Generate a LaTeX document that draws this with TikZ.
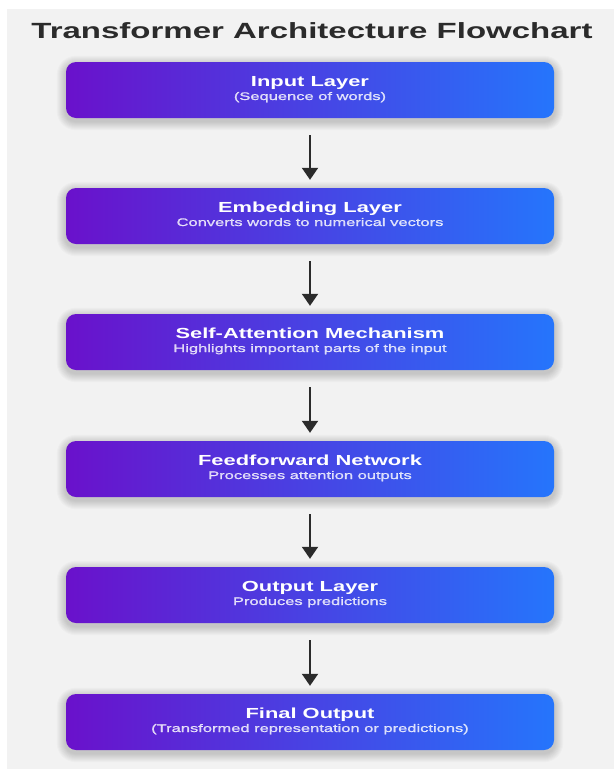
\documentclass[tikz,border=0pt]{standalone}
\usepackage{fontspec}
\setmainfont{Liberation Sans}[FakeStretch=1.5]
\newfontfamily\subfont{Liberation Sans}[FakeStretch=1.5,FakeBold=1.2]
\usetikzlibrary{arrows.meta}
\definecolor{bggray}{HTML}{F2F2F2}
\definecolor{gradL}{HTML}{6A11CB}
\definecolor{gradR}{HTML}{2575FC}
\definecolor{ink}{HTML}{2B2B2B}
\tikzset{
  layerbox/.style={rounded corners=10pt, minimum width=488pt, minimum height=56pt,
    left color=gradL, right color=gradR, draw=none, inner sep=0pt},
  boxtitle/.style={anchor=base, text=white, font=\fontsize{14.6}{17}\selectfont\bfseries, inner sep=0pt},
  boxsub/.style={anchor=base, text=white, text opacity=0.8, font=\subfont\fontsize{11}{13}\selectfont, inner sep=0pt},
  flowarrow/.style={draw=ink, line width=2pt, -{Triangle[width=16pt,length=12pt]}, shorten <=17pt, shorten >=8pt},
  softshadow/.style={fill=black, fill opacity=0.018, draw=none},
}
\newcommand{\boxshadow}[1]{%
  \foreach \r in {1,2,...,9} {
    \fill[softshadow, rounded corners=10pt+\r pt]
      ([xshift=-\r pt, yshift=-3pt+\r pt]#1.north west) rectangle ([xshift=\r pt, yshift=-3pt-\r pt]#1.south east);
  }%
}
\begin{document}
\begin{tikzpicture}[x=1pt,y=-1pt]
\useasboundingbox (0,0) rectangle (614,769);
\fill[white] (0,0) rectangle (614,769);
\fill[bggray] (7,9) rectangle (614,769);
\node[anchor=base, text=ink, font=\fontsize{22}{26}\selectfont\bfseries, inner sep=0pt] (title) at (312,38) {Transformer Architecture Flowchart};

\path (310,90) coordinate (c1) (310,216) coordinate (c2) (310,342) coordinate (c3)
      (310,469) coordinate (c4) (310,595) coordinate (c5) (310,722) coordinate (c6);
\foreach \i in {1,...,6} {
  \node[minimum width=488pt, minimum height=56pt, inner sep=0pt] (s\i) at (c\i) {};
  \boxshadow{s\i}
}

\node[layerbox] (b1) at (c1) {};
\node[boxtitle] (b1t) at (310,86) {Input Layer};
\node[boxsub] (b1s) at (310,100) {(Sequence of words)};

\node[layerbox] (b2) at (c2) {};
\node[boxtitle] (b2t) at (310,212) {Embedding Layer};
\node[boxsub] (b2s) at (310,226) {Converts words to numerical vectors};

\node[layerbox] (b3) at (c3) {};
\node[boxtitle] (b3t) at (310,338) {Self-Attention Mechanism};
\node[boxsub] (b3s) at (310,352) {Highlights important parts of the input};

\node[layerbox] (b4) at (c4) {};
\node[boxtitle] (b4t) at (310,465) {Feedforward Network};
\node[boxsub] (b4s) at (310,479) {Processes attention outputs};

\node[layerbox] (b5) at (c5) {};
\node[boxtitle] (b5t) at (310,591) {Output Layer};
\node[boxsub] (b5s) at (310,605) {Produces predictions};

\node[layerbox] (b6) at (c6) {};
\node[boxtitle] (b6t) at (310,718) {Final Output};
\node[boxsub] (b6s) at (310,732) {(Transformed representation or predictions)};

\draw[flowarrow] (b1.south) -- (b2.north);
\draw[flowarrow] (b2.south) -- (b3.north);
\draw[flowarrow] (b3.south) -- (b4.north);
\draw[flowarrow] (b4.south) -- (b5.north);
\draw[flowarrow] (b5.south) -- (b6.north);
\end{tikzpicture}
\end{document}
